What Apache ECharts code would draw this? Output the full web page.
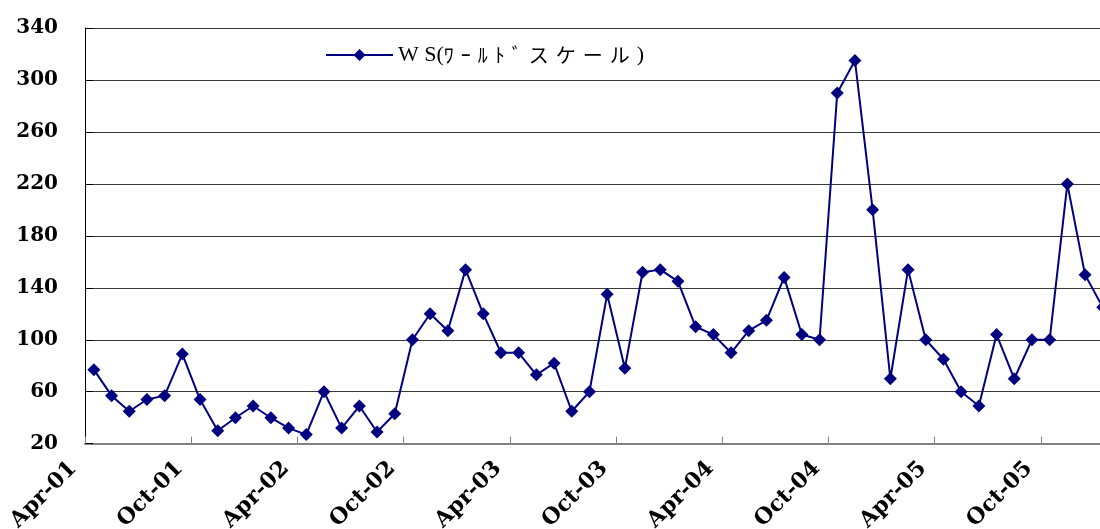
<!DOCTYPE html>
<html>
<head>
<meta charset="utf-8">
<script src="https://cdn.jsdelivr.net/npm/echarts@6/dist/echarts.min.js"></script>
<style>
html,body{margin:0;padding:0;background:#fff;}
#chart{width:1100px;height:529px;}
</style>
</head>
<body>
<div id="chart"></div>
<script>
// Monthly categories Apr-01 .. Jan-06
const categories = [
  'Apr-01','May-01','Jun-01','Jul-01','Aug-01','Sep-01','Oct-01','Nov-01','Dec-01','Jan-02','Feb-02','Mar-02',
  'Apr-02','May-02','Jun-02','Jul-02','Aug-02','Sep-02','Oct-02','Nov-02','Dec-02','Jan-03','Feb-03','Mar-03',
  'Apr-03','May-03','Jun-03','Jul-03','Aug-03','Sep-03','Oct-03','Nov-03','Dec-03','Jan-04','Feb-04','Mar-04',
  'Apr-04','May-04','Jun-04','Jul-04','Aug-04','Sep-04','Oct-04','Nov-04','Dec-04','Jan-05','Feb-05','Mar-05',
  'Apr-05','May-05','Jun-05','Jul-05','Aug-05','Sep-05','Oct-05','Nov-05','Dec-05','Jan-06'
];
const wsValues = [
  77, 57, 45, 54, 57, 89, 54, 30, 40, 49, 40, 32,
  27, 60, 32, 49, 29, 43, 100, 120, 107, 154, 120, 90,
  90, 73, 82, 45, 60, 135, 78, 152, 154, 145, 110, 104,
  90, 107, 115, 148, 104, 100, 290, 315, 200, 70, 154, 100,
  85, 60, 49, 104, 70, 100, 100, 220, 150, 125
];
const seriesName = 'W S(ﾜｰﾙﾄﾞスケール)';
const yTicks = [20, 60, 100, 140, 180, 220, 260, 300, 340];

const chart = echarts.init(document.getElementById('chart'));
chart.setOption({
  animation: false,
  backgroundColor: '#ffffff',
  grid: {
    left: 85, top: 28, width: categories.length * 17.7, height: 415.7,
    outerBoundsMode: 'none', containLabel: false
  },
  legend: {
    left: 325, top: 44, padding: 0,
    itemWidth: 67, itemHeight: 15, itemGap: 6,
    textStyle: {
      fontSize: 21, color: '#000', fontFamily: '"Noto Sans CJK JP", sans-serif',
      rich: {
        l: { fontFamily: '"Liberation Serif", serif', fontSize: 22, color: '#000' },
        k: { fontFamily: '"Noto Sans CJK JP", sans-serif', fontSize: 20, color: '#000', padding: [0, 7, 0, 0] }
      }
    },
    formatter: function (name) {
      return Array.from(name).map(function (ch) {
        return (ch.charCodeAt(0) < 128 ? '{l|' : '{k|') + ch + '}';
      }).join('');
    },
    data: [seriesName]
  },
  xAxis: {
    type: 'category',
    data: categories,
    boundaryGap: true,
    axisLine: { show: true, lineStyle: { color: '#808080', width: 2 } },
    axisTick: { show: true, inside: true, length: 7, interval: 5, lineStyle: { color: '#808080', width: 1 } },
    axisLabel: {
      interval: 5, rotate: 45, margin: 1, padding: [0, 29, 0, 0],
      fontFamily: '"DejaVu Serif", serif', fontWeight: 'bold', fontSize: 22, color: '#000'
    },
    splitLine: { show: false }
  },
  yAxis: {
    type: 'value',
    min: yTicks[0], max: yTicks[yTicks.length - 1], interval: 40,
    axisLine: { show: true, lineStyle: { color: '#000', width: 1 } },
    axisTick: { show: true, inside: true, length: 8, lineStyle: { color: '#000', width: 1 } },
    axisLabel: {
      margin: 27,
      fontFamily: '"DejaVu Serif", serif', fontWeight: 'bold', fontSize: 20, color: '#000'
    },
    splitLine: { show: true, lineStyle: { color: '#3a3a3a', width: 1 } }
  },
  series: [{
    name: seriesName,
    type: 'line',
    data: wsValues,
    symbol: 'diamond',
    symbolSize: 13,
    showAllSymbol: true,
    clip: false,
    itemStyle: { color: '#000080' },
    lineStyle: { color: '#000080', width: 2 }
  }]
});
</script>
</body>
</html>
